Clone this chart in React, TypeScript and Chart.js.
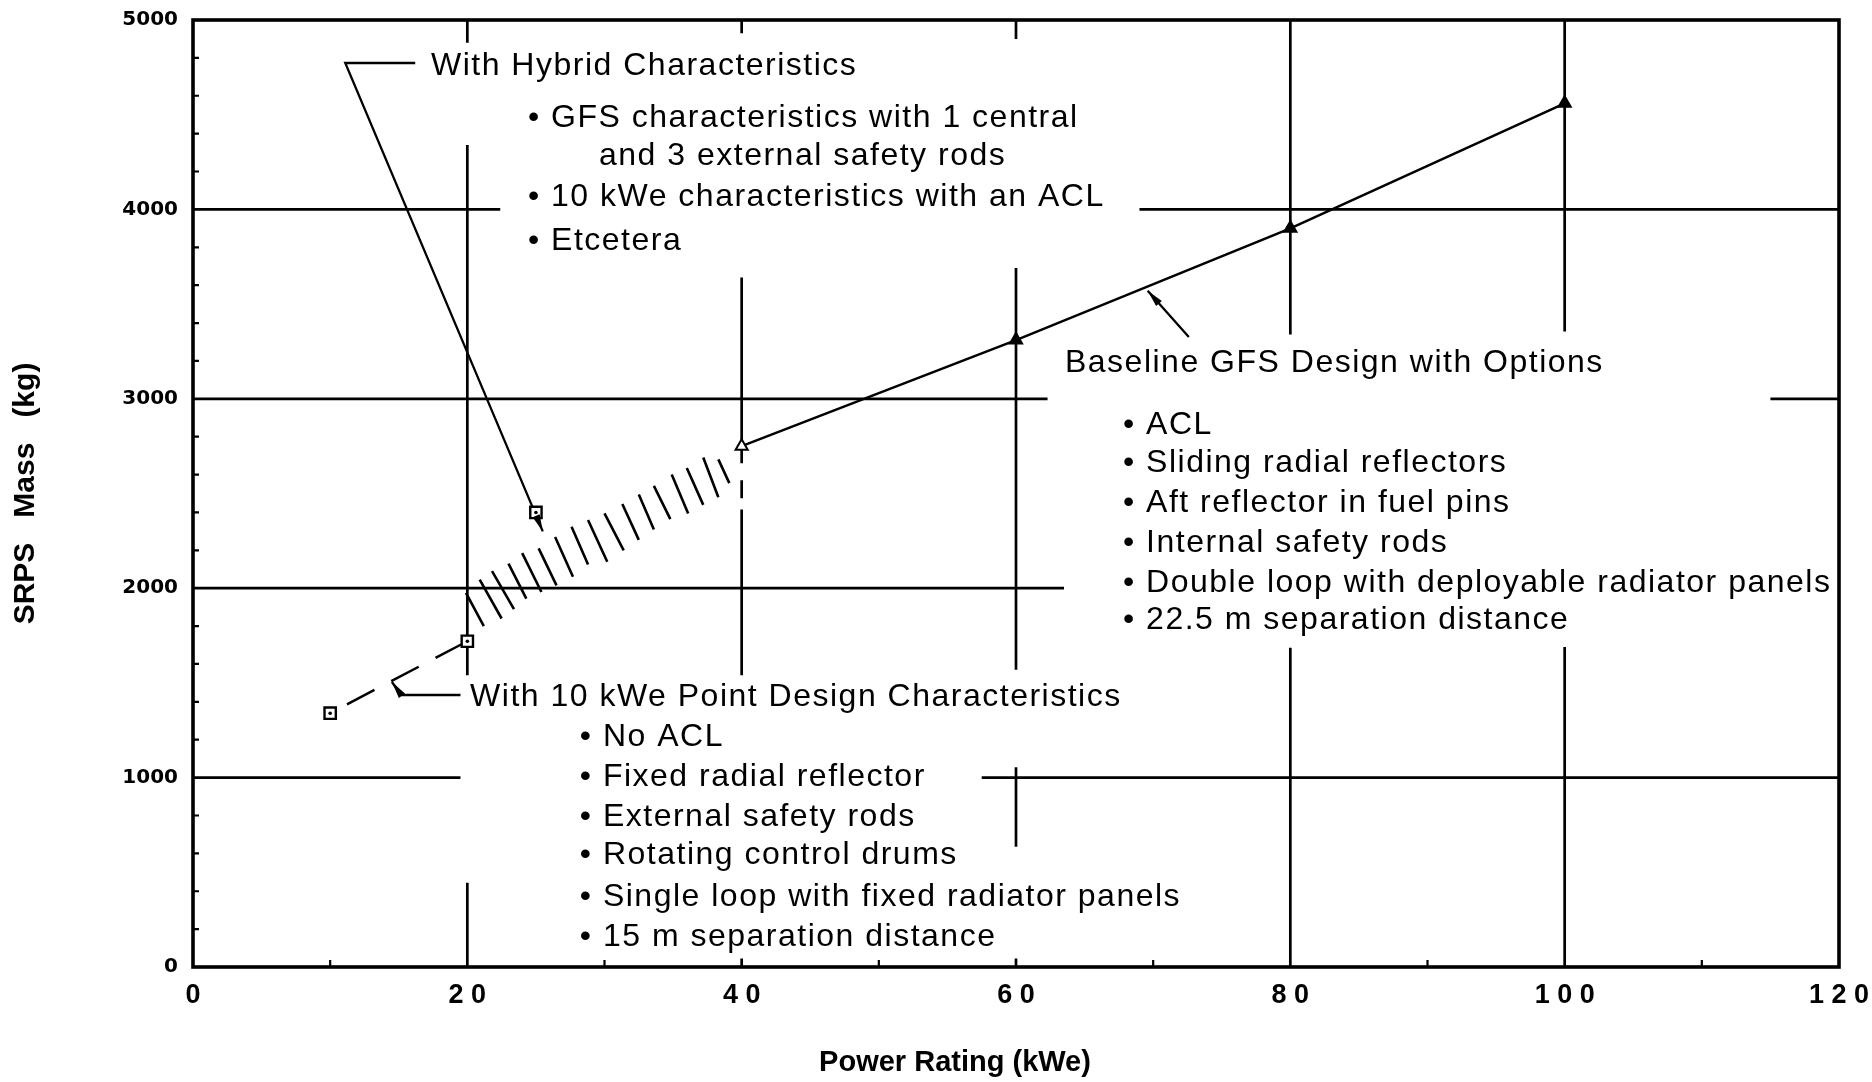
import React, { useEffect, useRef } from "react";
import { Chart, registerables } from "chart.js";

Chart.register(...registerables);

// ---------------- data (kWe, kg) ----------------
const baselineX = [40, 60, 80, 100];
const baselineY = [2750, 3310, 3900, 4560];
const baselineFill = ["#ffffff", "#000000", "#000000", "#000000"];

const pointDesignX = [10, 20];
const pointDesignY = [1340, 1720];

const squareX = [10, 20, 25];
const squareY = [1340, 1720, 2400];

// hatched transition band between 20 and 40 kWe (stroke ends)
const hatchTopX = [19.9, 20.9, 21.8, 23.0, 24.0, 25.2, 26.4, 27.6, 28.8, 30.0, 31.3, 32.5, 33.6, 34.9, 36.0, 37.2, 38.3];
const hatchTopY = [1975, 2045, 2090, 2130, 2185, 2210, 2270, 2325, 2360, 2395, 2445, 2495, 2540, 2600, 2635, 2690, 2680];
const hatchBotX = [21.2, 22.5, 23.4, 24.3, 25.4, 26.5, 27.7, 28.8, 30.2, 31.4, 32.5, 33.6, 34.8, 36.1, 37.2, 38.3, 39.1];
const hatchBotY = [1800, 1840, 1890, 1945, 1980, 2015, 2060, 2125, 2140, 2200, 2255, 2310, 2365, 2395, 2440, 2480, 2555];

// leader lines of the call-outs
const hybridLeaderX = [16.2, 11.1, 25.5];
const hybridLeaderY = [4773, 4773, 2300];
const pointLeaderX = [19.5, 15.2, 14.5];
const pointLeaderY = [1436, 1436, 1505];
const baselineLeaderX = [72.6, 69.6];
const baselineLeaderY = [3326, 3570];

// axes
const xMin = 0, xMax = 120, xStep = 20;
const yMin = 0, yMax = 5000, yStep = 1000;
const xTitle = "Power Rating (kWe)";
const yTitle = "SRPS   Mass   (kg)";

// broken grid lines (value, [from, to] ranges along the other axis)
const vGridX = [20, 40, 60, 80, 100];
const vGridRanges = [
  [[4880, 5000], [1540, 4340], [0, 445]],
  [[4930, 5000], [2660, 3640], [2475, 2570], [1540, 2415], [0, 45]],
  [[4900, 5000], [1570, 3690], [635, 1055], [0, 45]],
  [[3340, 5000], [0, 1685]],
  [[3355, 5000], [0, 1690]],
];
const hGridY = [4000, 3000, 2000, 1000];
const hGridRanges = [
  [[0, 22.4], [69, 120]],
  [[0, 62.3], [115, 120]],
  [[0, 63.5]],
  [[0, 19.5], [57.5, 120]],
];

// call-out texts
const hybridNotes = [
  "With Hybrid Characteristics",
  "\u2022 GFS characteristics with 1 central",
  "and 3 external safety rods",
  "\u2022 10 kWe characteristics with an ACL",
  "\u2022 Etcetera",
];
const baselineNotes = [
  "Baseline GFS Design with Options",
  "\u2022 ACL",
  "\u2022 Sliding radial reflectors",
  "\u2022 Aft reflector in fuel pins",
  "\u2022 Internal safety rods",
  "\u2022 Double loop with deployable radiator panels",
  "\u2022 22.5 m separation distance",
];
const pointNotes = [
  "With 10 kWe Point Design Characteristics",
  "\u2022 No ACL",
  "\u2022 Fixed radial reflector",
  "\u2022 External safety rods",
  "\u2022 Rotating control drums",
  "\u2022 Single loop with fixed radiator panels",
  "\u2022 15 m separation distance",
];

// anchor positions of the call-out lines (in axis units)
const noteLayout = [
  { lines: hybridNotes, x: [17.35, 24.42, 29.6, 24.42, 24.42], y: [4757, 4483, 4282, 4065, 3833] },
  { lines: baselineNotes, x: [63.57, 67.8, 67.8, 67.8, 67.8, 67.8, 67.8], y: [3189, 2862, 2661, 2450, 2239, 2027, 1832] },
  { lines: pointNotes, x: [20.2, 28.2, 28.2, 28.2, 28.2, 28.2, 28.2], y: [1426, 1214, 1003, 792, 591, 370, 158] },
];

const SANS = "'Liberation Sans', Arial, Helvetica, sans-serif";

const pts = (xs: number[], ys: number[]) => xs.map((x, i) => ({ x, y: ys[i] }));

function drawArrow(ctx: CanvasRenderingContext2D, x0: number, y0: number, x1: number, y1: number) {
  const len = 17, half = 3.8;
  const dx = x1 - x0, dy = y1 - y0;
  const d = Math.hypot(dx, dy) || 1;
  const ux = dx / d, uy = dy / d;
  const bx = x1 - ux * len, by = y1 - uy * len;
  ctx.beginPath();
  ctx.moveTo(x1, y1);
  ctx.lineTo(bx - uy * half, by + ux * half);
  ctx.lineTo(bx + uy * half, by - ux * half);
  ctx.closePath();
  ctx.fill();
}

const framePlugin = {
  id: "frameGrid",
  beforeDatasetsDraw(chart: any) {
    const { ctx, chartArea: a, scales } = chart;
    const xs = scales.x, ys = scales.y;
    ctx.save();
    ctx.strokeStyle = "#000";
    ctx.lineCap = "butt";
    ctx.lineWidth = 2.7;
    ctx.beginPath();
    vGridX.forEach((xv, i) => {
      const px = xs.getPixelForValue(xv);
      vGridRanges[i].forEach(([f, t]) => {
        ctx.moveTo(px, ys.getPixelForValue(f));
        ctx.lineTo(px, ys.getPixelForValue(t));
      });
    });
    hGridY.forEach((yv, i) => {
      const py = ys.getPixelForValue(yv);
      hGridRanges[i].forEach(([f, t]) => {
        ctx.moveTo(xs.getPixelForValue(f), py);
        ctx.lineTo(xs.getPixelForValue(t), py);
      });
    });
    ctx.stroke();
    // minor ticks
    ctx.lineWidth = 2.2;
    ctx.beginPath();
    for (let v = yMin + 200; v < yMax; v += 200) {
      if (v % yStep === 0) continue;
      const py = ys.getPixelForValue(v);
      ctx.moveTo(a.left, py);
      ctx.lineTo(a.left + 6, py);
    }
    for (let v = xMin + xStep / 2; v < xMax; v += xStep) {
      const px = xs.getPixelForValue(v);
      ctx.moveTo(px, a.bottom);
      ctx.lineTo(px, a.bottom - 7);
    }
    ctx.stroke();
    // frame
    ctx.lineWidth = 3.6;
    ctx.strokeRect(a.left, a.top, a.right - a.left, a.bottom - a.top);
    ctx.restore();
  },
};

const notesPlugin = {
  id: "notes",
  afterDatasetsDraw(chart: any) {
    const { ctx, scales } = chart;
    const xs = scales.x, ys = scales.y;
    ctx.save();
    ctx.fillStyle = "#000";
    [[hybridLeaderX, hybridLeaderY], [pointLeaderX, pointLeaderY], [baselineLeaderX, baselineLeaderY]].forEach(([lx, ly]) => {
      const n = lx.length;
      drawArrow(
        ctx,
        xs.getPixelForValue(lx[n - 2]), ys.getPixelForValue(ly[n - 2]),
        xs.getPixelForValue(lx[n - 1]), ys.getPixelForValue(ly[n - 1])
      );
    });
    ctx.font = `32px ${SANS}`;
    ctx.textAlign = "left";
    ctx.textBaseline = "middle";
    try { (ctx as any).letterSpacing = "1.5px"; } catch (e) {}
    noteLayout.forEach((blk) => {
      blk.lines.forEach((t, i) => {
        ctx.fillText(t, xs.getPixelForValue(blk.x[i]), ys.getPixelForValue(blk.y[i]));
      });
    });
    try { (ctx as any).letterSpacing = "0px"; } catch (e) {}
    ctx.restore();
  },
};

export default function App() {
  const ref = useRef<HTMLCanvasElement | null>(null);

  useEffect(() => {
    const canvas = ref.current;
    if (!canvas) return;
    document.body.style.margin = "0";
    document.body.style.background = "#fff";

    const hatchData: any[] = [];
    hatchTopX.forEach((x, i) => {
      hatchData.push({ x, y: hatchTopY[i] });
      hatchData.push({ x: hatchBotX[i], y: hatchBotY[i] });
      hatchData.push({ x: hatchBotX[i], y: null });
    });

    const lineDs = (data: any[], extra: any = {}) => ({
      data,
      showLine: true,
      borderColor: "#000",
      borderWidth: 2.5,
      pointRadius: 0,
      pointHoverRadius: 0,
      spanGaps: false,
      ...extra,
    });

    const chart = new Chart(canvas, {
      type: "scatter",
      data: {
        datasets: [
          {
            label: "centre dots",
            data: pts(squareX, squareY),
            pointStyle: "circle",
            pointRadius: 1.8,
            pointBackgroundColor: "#000",
            pointBorderWidth: 0,
            showLine: false,
          } as any,
          {
            label: "10 kWe point design / hybrid",
            data: pts(squareX, squareY),
            pointStyle: "rect",
            pointRadius: 8,
            pointBackgroundColor: "#fff",
            pointBorderColor: "#000",
            pointBorderWidth: 2.4,
            showLine: false,
          } as any,
          {
            label: "Baseline GFS design",
            data: pts(baselineX, baselineY),
            showLine: true,
            borderColor: "#000",
            borderWidth: 2.5,
            pointStyle: "triangle",
            pointRadius: 7,
            pointBackgroundColor: baselineFill,
            pointBorderColor: "#000",
            pointBorderWidth: 2,
          } as any,
          lineDs(pts(pointDesignX, pointDesignY), { label: "point design trend", borderDash: [31, 19], borderDashOffset: 31 }),
          lineDs(hatchData, { label: "hatch", borderWidth: 2.6 }),
          lineDs(pts(hybridLeaderX, hybridLeaderY), { label: "hybrid leader", borderWidth: 2.3 }),
          lineDs(pts(pointLeaderX, pointLeaderY), { label: "point leader", borderWidth: 2.3 }),
          lineDs(pts(baselineLeaderX, baselineLeaderY), { label: "baseline leader", borderWidth: 2.3 }),
        ],
      },
      options: {
        responsive: false,
        animation: false,
        devicePixelRatio: 1,
        events: [],
        layout: { padding: { top: 20, right: 0, bottom: 0, left: 38 } },
        plugins: {
          legend: { display: false },
          tooltip: { enabled: false },
          title: {
            display: true,
            position: "bottom",
            text: xTitle,
            color: "#000",
            font: { family: SANS, size: 29, weight: "bold" },
            padding: { top: 0, bottom: 2 },
          },
        },
        scales: {
          x: {
            type: "linear",
            min: xMin,
            max: xMax,
            grid: { display: false, drawTicks: true, tickLength: 12 },
            border: { display: false },
            ticks: {
              stepSize: xStep,
              color: "#000",
              padding: 0,
              maxRotation: 0,
              autoSkip: false,
              font: { family: SANS, size: 27, weight: "bold" },
              callback: (v: any) => String(v).split("").join(" "),
            },
            afterFit: (s: any) => {
              s.height = 78.2;
            },
          },
          y: {
            type: "linear",
            min: yMin,
            max: yMax,
            grid: { display: false, drawTicks: true, tickLength: 15 },
            border: { display: false },
            ticks: {
              stepSize: yStep,
              color: "#000",
              padding: 0,
              font: { family: "'DejaVu Sans', sans-serif", size: 20, weight: "bold" },
              callback: (v: any) => String(v),
            },
            title: {
              display: true,
              text: yTitle,
              color: "#000",
              font: { family: SANS, size: 30, weight: "bold" },
              padding: { top: -30, bottom: 0 },
            },
            afterFit: (s: any) => {
              s.width = 155;
            },
          },
          yRight: {
            type: "linear",
            position: "right",
            display: true,
            grid: { display: false, drawTicks: false },
            border: { display: false },
            ticks: { display: false },
            afterFit: (s: any) => {
              s.width = 33;
            },
          },
        },
      } as any,
      plugins: [framePlugin, notesPlugin],
    });

    return () => chart.destroy();
  }, []);

  return (
    <div style={{ position: "fixed", left: 0, top: 0, width: 1872, height: 1082, background: "#fff" }}>
      <canvas ref={ref} width={1872} height={1082} style={{ display: "block" }} />
    </div>
  );
}
